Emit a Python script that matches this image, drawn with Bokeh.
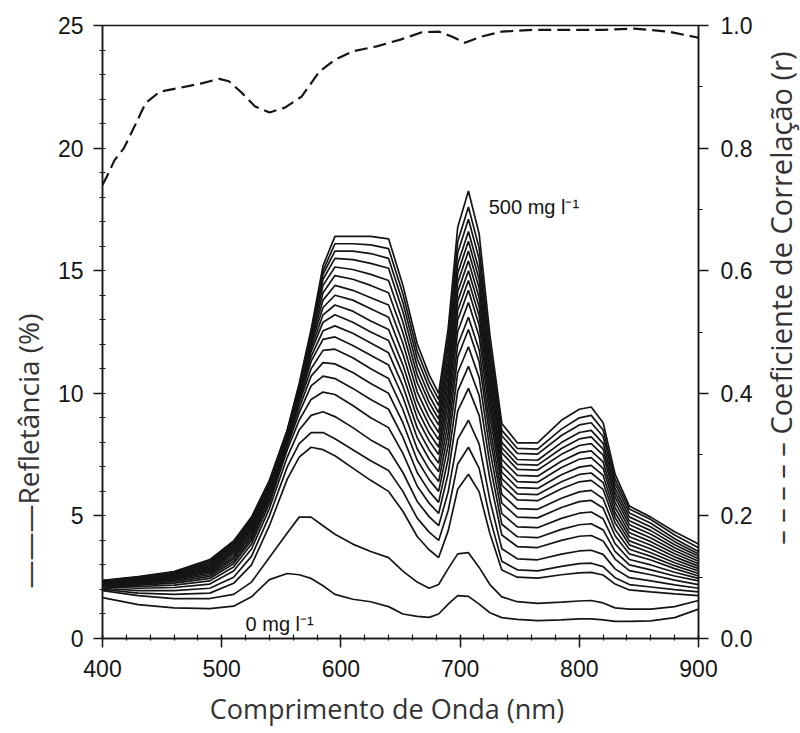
import math
from bokeh.plotting import figure
from bokeh.layouts import row
from bokeh.models import Range1d, LinearAxis, SingleIntervalTicker, FixedTicker, PrintfTickFormatter
from bokeh.core.properties import value
from bokeh.embed import file_html
from bokeh.resources import INLINE

# wavelengths (nm) at which each reflectance curve was read
wl = [400, 430, 460, 490, 510, 525, 540, 555, 565, 575, 585, 595, 610, 625, 640, 652, 664, 674, 682,
      690, 698, 707, 716, 725, 735, 748, 765, 785, 800, 810, 820, 830, 842, 860, 880, 900]

# reflectance (%) curves, from 0 mg/l (lowest) to 500 mg/l (highest)
c00 = [1.67, 1.38, 1.25, 1.22, 1.32, 1.7, 2.4, 2.65, 2.6, 2.45, 2.15, 1.8, 1.6, 1.5, 1.3, 1.0, 0.9, 0.86, 1.0,
       1.4, 1.75, 1.72, 1.4, 1.05, 0.85, 0.78, 0.73, 0.76, 0.8, 0.8, 0.76, 0.7, 0.7, 0.72, 0.85, 1.2]
c01 = [1.95, 1.75, 1.63, 1.63, 1.8, 2.3, 3.3, 4.3, 4.95, 4.95, 4.6, 4.25, 3.85, 3.55, 3.3, 2.75, 2.3, 2.05, 2.2,
       2.85, 3.45, 3.5, 2.9, 2.2, 1.7, 1.5, 1.43, 1.48, 1.53, 1.55, 1.45, 1.25, 1.2, 1.2, 1.3, 1.55]
c02 = [2.00, 1.85, 1.80, 1.85, 2.25, 3.0, 4.6, 6.5, 7.4, 7.8, 7.7, 7.45, 6.95, 6.45, 6.0, 5.19, 4.16, 3.62, 3.3,
       4.39, 6.09, 6.7, 5.98, 4.28, 2.79, 2.5, 2.46, 2.6, 2.68, 2.7, 2.59, 2.22, 1.98, 1.9, 1.82, 1.75]
c03 = [2.05, 1.95, 1.95, 2.05, 2.5, 3.35, 5.0, 7.0, 7.95, 8.4, 8.4, 8.15, 7.7, 7.25, 6.85, 6.0, 4.91, 4.34, 4.0,
       5.22, 7.12, 7.8, 6.94, 4.92, 3.15, 2.8, 2.76, 2.94, 3.05, 3.07, 2.93, 2.48, 2.2, 2.1, 1.99, 1.9]
c04 = [2.10, 2.05, 2.08, 2.22, 2.75, 3.65, 5.3, 7.4, 8.5, 9.1, 9.25, 9.05, 8.6, 8.1, 7.7, 6.77, 5.59, 4.97, 4.6,
       5.98, 8.13, 8.9, 7.93, 5.65, 3.66, 3.25, 3.21, 3.44, 3.57, 3.6, 3.43, 2.84, 2.48, 2.35, 2.19, 2.05]
c05 = [2.14, 2.12, 2.18, 2.35, 2.92, 3.85, 5.5, 7.7, 8.9, 9.75, 10.05, 9.95, 9.5, 9.0, 8.6, 7.55, 6.22, 5.52, 5.1,
       6.73, 9.28, 10.2, 9.1, 6.5, 4.22, 3.75, 3.71, 4.0, 4.17, 4.2, 3.98, 3.24, 2.77, 2.6, 2.38, 2.2]
c06 = [2.18, 2.18, 2.26, 2.45, 3.05, 4.0, 5.65, 7.85, 9.2, 10.3, 10.7, 10.6, 10.2, 9.75, 9.35, 8.21, 6.77, 6.01, 5.55,
       7.33, 10.1, 11.1, 9.91, 7.11, 4.66, 4.15, 4.11, 4.45, 4.64, 4.68, 4.43, 3.55, 3.0, 2.8, 2.55, 2.35]
c07 = [2.20, 2.22, 2.32, 2.53, 3.15, 4.1, 5.75, 7.95, 9.4, 10.7, 11.25, 11.2, 10.85, 10.4, 10.0, 8.8, 7.28, 6.48, 6.0,
       7.89, 10.84, 11.9, 10.64, 7.68, 5.09, 4.55, 4.52, 4.9, 5.11, 5.16, 4.88, 3.87, 3.22, 3.0, 2.7, 2.45]
c08 = [2.22, 2.26, 2.38, 2.60, 3.25, 4.2, 5.85, 8.05, 9.6, 11.0, 11.75, 11.8, 11.45, 11.0, 10.6, 9.34, 7.74, 6.9, 6.4,
       8.38, 11.48, 12.6, 11.29, 8.21, 5.52, 4.95, 4.92, 5.34, 5.58, 5.63, 5.32, 4.19, 3.45, 3.2, 2.85, 2.55]
c09 = [2.24, 2.29, 2.42, 2.66, 3.33, 4.3, 5.9, 8.1, 9.7, 11.3, 12.2, 12.3, 11.95, 11.55, 11.15, 9.85, 8.19, 7.32, 6.8,
       8.82, 11.97, 13.1, 11.77, 8.63, 5.88, 5.3, 5.27, 5.72, 5.98, 6.04, 5.7, 4.45, 3.64, 3.35, 2.97, 2.65]
c10 = [2.26, 2.32, 2.46, 2.72, 3.42, 4.4, 5.95, 8.15, 9.8, 11.5, 12.55, 12.75, 12.45, 12.05, 11.65, 10.3, 8.59, 7.69, 7.15,
       9.25, 12.52, 13.7, 12.32, 9.08, 6.25, 5.65, 5.62, 6.11, 6.39, 6.45, 6.08, 4.72, 3.82, 3.5, 3.09, 2.75]
c11 = [2.27, 2.34, 2.50, 2.77, 3.50, 4.48, 6.0, 8.2, 9.9, 11.7, 12.9, 13.2, 12.9, 12.5, 12.15, 10.76, 8.99, 8.06, 7.5,
       9.64, 12.99, 14.2, 12.78, 9.44, 6.52, 5.9, 5.87, 6.39, 6.69, 6.75, 6.36, 4.93, 3.98, 3.65, 3.21, 2.85]
c12 = [2.28, 2.36, 2.53, 2.82, 3.57, 4.55, 6.05, 8.25, 9.95, 11.85, 13.2, 13.6, 13.35, 12.95, 12.6, 11.16, 9.34, 8.38, 7.8,
       9.98, 13.38, 14.6, 13.16, 9.76, 6.78, 6.15, 6.12, 6.68, 6.99, 7.06, 6.65, 5.13, 4.15, 3.8, 3.33, 2.95]
c13 = [2.29, 2.38, 2.56, 2.87, 3.64, 4.62, 6.1, 8.3, 10.0, 12.0, 13.5, 14.0, 13.8, 13.45, 13.1, 11.6, 9.7, 8.7, 8.1,
       10.31, 13.76, 15.0, 13.53, 10.07, 7.04, 6.4, 6.37, 6.97, 7.31, 7.38, 6.94, 5.34, 4.31, 3.95, 3.46, 3.05]
c14 = [2.30, 2.40, 2.59, 2.92, 3.71, 4.68, 6.15, 8.33, 10.05, 12.1, 13.8, 14.4, 14.2, 13.9, 13.6, 12.04, 10.06, 9.02, 8.4,
       10.64, 14.14, 15.4, 13.9, 10.38, 7.3, 6.65, 6.62, 7.23, 7.58, 7.65, 7.2, 5.55, 4.48, 4.1, 3.58, 3.15]
c15 = [2.31, 2.42, 2.62, 2.97, 3.78, 4.74, 6.2, 8.36, 10.1, 12.2, 14.1, 14.8, 14.65, 14.4, 14.1, 12.48, 10.43, 9.35, 8.7,
       10.97, 14.52, 15.8, 14.28, 10.7, 7.57, 6.9, 6.87, 7.51, 7.87, 7.95, 7.48, 5.76, 4.64, 4.25, 3.7, 3.25]
c16 = [2.32, 2.44, 2.65, 3.02, 3.85, 4.79, 6.25, 8.39, 10.15, 12.3, 14.4, 15.15, 15.05, 14.85, 14.6, 12.91, 10.76, 9.63, 8.95,
       11.27, 14.9, 16.2, 14.64, 10.98, 7.78, 7.1, 7.07, 7.75, 8.14, 8.22, 7.72, 5.94, 4.8, 4.4, 3.82, 3.35]
c17 = [2.33, 2.46, 2.67, 3.07, 3.9, 4.84, 6.3, 8.42, 10.2, 12.4, 14.65, 15.5, 15.45, 15.3, 15.1, 13.33, 11.09, 9.91, 9.2,
       11.57, 15.27, 16.6, 15.01, 11.27, 8.0, 7.3, 7.27, 7.99, 8.4, 8.49, 7.96, 6.12, 4.96, 4.55, 3.95, 3.45]
c18 = [2.34, 2.48, 2.69, 3.12, 3.93, 4.88, 6.35, 8.45, 10.25, 12.45, 14.85, 15.8, 15.8, 15.7, 15.5, 13.7, 11.42, 10.22, 9.5,
       11.93, 15.73, 17.1, 15.47, 11.63, 8.27, 7.55, 7.52, 8.28, 8.71, 8.8, 8.24, 6.32, 5.12, 4.7, 4.07, 3.55]
c19 = [2.35, 2.50, 2.71, 3.17, 3.96, 4.92, 6.4, 8.48, 10.3, 12.5, 15.0, 16.1, 16.1, 16.05, 15.9, 14.06, 11.72, 10.49, 9.75,
       12.26, 16.19, 17.6, 15.92, 11.96, 8.49, 7.75, 7.72, 8.54, 9.0, 9.1, 8.5, 6.5, 5.28, 4.85, 4.22, 3.7]
c20 = [2.37, 2.52, 2.73, 3.22, 3.98, 4.95, 6.45, 8.5, 10.4, 12.6, 15.2, 16.4, 16.4, 16.4, 16.3, 14.41, 12.02, 10.76, 10.0,
       12.64, 16.77, 18.25, 16.5, 12.38, 8.77, 7.98, 7.98, 8.9, 9.35, 9.44, 8.8, 6.7, 5.4, 4.95, 4.35, 3.85]

curves = [c00, c01, c02, c03, c04, c05, c06, c07, c08, c09, c10,
          c11, c12, c13, c14, c15, c16, c17, c18, c19, c20]

# correlation coefficient (r) curve, right axis
r_wl = [400, 404, 410, 418, 428, 436, 448, 464, 484, 498, 506, 517, 528, 540, 553, 567, 582, 595, 610,
        630, 650, 668, 682, 693, 704, 718, 735, 763, 790, 820, 846, 875, 900]
r_val = [0.74, 0.755, 0.78, 0.80, 0.84, 0.873, 0.892, 0.898, 0.906, 0.913, 0.909, 0.89, 0.868, 0.858, 0.866,
         0.884, 0.925, 0.944, 0.958, 0.966, 0.977, 0.989, 0.99, 0.982, 0.972, 0.982, 0.99, 0.993, 0.993,
         0.993, 0.995, 0.99, 0.98]

right_ticks = [0.0, 0.2, 0.4, 0.6, 0.8, 1.0]
right_minor = [0.1, 0.3, 0.5, 0.7, 0.9]
right_title = "– – – – – Coeficiente de Correlação (r)"

TICK_FONT = "Liberation Sans"
LABEL_FONT = "Open Sans"
INK = "#151515"
EM = "\u2003"
EN = "\u2002"

H = 733
p = figure(width=760, height=H, x_range=Range1d(400, 900), y_range=Range1d(0, 25),
           output_backend="svg", toolbar_location=None,
           min_border_left=102, min_border_right=62, min_border_top=25, min_border_bottom=95)
p.extra_y_ranges = {"r": Range1d(0, 1)}
p.xgrid.visible = False
p.ygrid.visible = False
p.outline_line_color = INK
p.outline_line_width = 1.5
p.background_fill_color = "white"
p.border_fill_color = "white"

for c in curves:
    p.line(wl, c, line_color=INK, line_width=1.7)

p.line(r_wl, r_val, y_range_name="r", line_color=INK, line_width=2.2, line_dash="13 6")

def style_axis(ax):
    ax.axis_line_color = INK
    ax.axis_line_width = 1.5
    ax.major_tick_line_color = INK
    ax.minor_tick_line_color = INK
    ax.major_tick_line_width = 1.5
    ax.minor_tick_line_width = 1.2
    ax.major_label_text_font = TICK_FONT
    ax.major_label_text_font_size = "23px"
    ax.major_label_text_color = INK
    ax.axis_label_text_font = LABEL_FONT
    ax.axis_label_text_font_style = "normal"
    ax.axis_label_text_color = "#333333"

xa = p.xaxis[0]
xa.ticker = SingleIntervalTicker(interval=100, num_minor_ticks=5)
style_axis(xa)
xa.major_tick_out = 9
xa.major_tick_in = 3
xa.minor_tick_out = 2
xa.minor_tick_in = 4
xa.major_label_standoff = 12
xa.axis_label = "Comprimento de Onda (nm)" + EM
xa.axis_label_text_font_size = "27px"
xa.axis_label_standoff = 10

ya = p.yaxis[0]
ya.ticker = SingleIntervalTicker(interval=5, num_minor_ticks=5)
style_axis(ya)
ya.major_tick_out = 9
ya.major_tick_in = 0
ya.minor_tick_out = 3
ya.minor_tick_in = 3
ya.major_label_standoff = 10
ya.axis_label = "———Refletância (%)" + EM * 8 + EN
ya.axis_label_text_font_size = "28px"
ya.axis_label_standoff = 8

ra = LinearAxis(y_range_name="r", ticker=FixedTicker(ticks=right_ticks, minor_ticks=right_minor),
                formatter=PrintfTickFormatter(format="%.1f"))
style_axis(ra)
ra.major_tick_out = 10
ra.major_tick_in = 0
ra.minor_tick_out = 4
ra.minor_tick_in = 0
ra.major_label_standoff = 12
p.add_layout(ra, "right")

p.text(x=[724], y=[17.6], text=["500 mg l⁻¹"], text_font=value(TICK_FONT), text_font_size="20px",
       text_color=INK, text_baseline="alphabetic", text_align="left")
p.text(x=[520], y=[0.6], text=["0 mg l⁻¹"], text_font=value(TICK_FONT), text_font_size="20px",
       text_color=INK, text_baseline="alphabetic", text_align="left")

# narrow strip on the right holding the right-axis title, reading bottom to top
q = figure(width=40, height=H, x_range=Range1d(0, 40), y_range=Range1d(0, H),
           output_backend="svg", toolbar_location=None, x_axis_location=None, y_axis_location=None,
           min_border=0)
q.grid.visible = False
q.outline_line_color = None
q.background_fill_color = "white"
q.border_fill_color = "white"
q.text(x=[20], y=[H - 326], text=[right_title], angle=math.pi / 2, text_align="center",
       text_baseline="middle", text_font=value(LABEL_FONT), text_font_size="29px", text_color="#333333")

layout = row(p, q, spacing=0)
open("out.html", "w").write(file_html(layout, INLINE))
